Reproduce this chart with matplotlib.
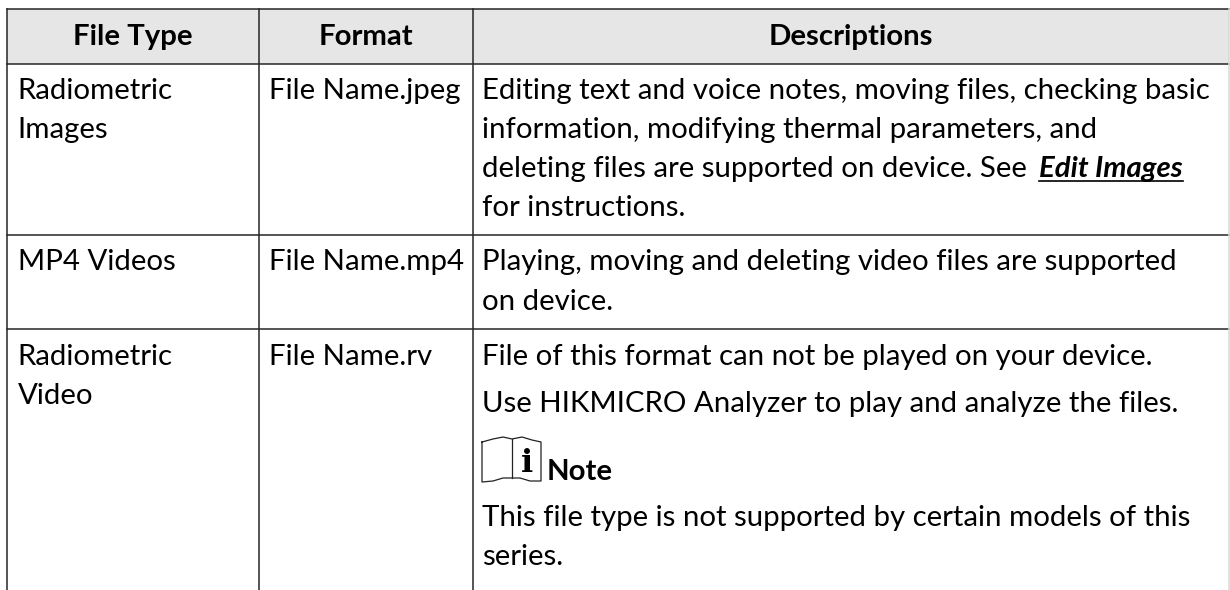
import matplotlib
matplotlib.use("Agg")
import matplotlib.pyplot as plt

plt.rcParams['font.family'] = ['Lato', 'DejaVu Sans']

# table content
headers = ["File Type", "Format", "Descriptions"]
file_types = [["Radiometric", "Images"], ["MP4 Videos"], ["Radiometric", "Video"]]
formats = ["File Name.jpeg", "File Name.mp4", "File Name.rv"]
row1_desc = ["Editing text and voice notes, moving files, checking basic",
             "information, modifying thermal parameters, and",
             "deleting files are supported on device. See",
             "for instructions."]
row2_desc = ["Playing, moving and deleting video files are supported",
             "on device."]
row3_desc_top = ["File of this format can not be played on your device.",
                 "Use HIKMICRO Analyzer to play and analyze the files."]
row3_desc_bottom = ["This file type is not supported by certain models of this",
                    "series."]
link_text = "Edit Images"
note_text = "Note"

# layout in pixels
col_x = [7, 258.5, 472.5, 1229]
top_y = 8.7
head_y = 64
row_y = [235, 329.3]
fs = 21.2
line_col = "#262626"

fig = plt.figure(figsize=(12.3, 5.9), dpi=100)
ax = fig.add_axes([0, 0, 1, 1])
ax.set_xlim(0, 1230)
ax.set_ylim(590, 0)
ax.axis("off")

ax.fill_between([col_x[0], col_x[3]], top_y, head_y, color="#e6e6e6", lw=0)

for y in [top_y, head_y] + row_y:
    ax.plot([col_x[0], col_x[3]], [y, y], color=line_col, lw=1.1)
for x in col_x[:3]:
    ax.plot([x, x], [top_y, 590], color=line_col, lw=1.1)
ax.plot([col_x[3], col_x[3]], [top_y, 590], color="#d8d8d8", lw=1.1)

for i, h in enumerate(headers):
    ax.text((col_x[i] + col_x[i + 1]) / 2, 45, h, ha="center", va="baseline",
            fontsize=fs, fontweight="bold", color="black")


def put_lines(x, baselines, lines):
    for y, s in zip(baselines, lines):
        ax.text(x, y, s, va="baseline", fontsize=fs, color="black")


put_lines(17.5, [99, 138], file_types[0])
put_lines(17.5, [270], file_types[1])
put_lines(17.5, [365, 404], file_types[2])
put_lines(269, [99], [formats[0]])
put_lines(269, [270], [formats[1]])
put_lines(269, [365], [formats[2]])
put_lines(482, [99, 138, 177, 216], row1_desc)
put_lines(482, [270, 310], row2_desc)
put_lines(482, [365, 412], row3_desc_top)
put_lines(482, [526, 565], row3_desc_bottom)

# bold link, underlined to its measured width
fig.canvas.draw()
renderer = fig.canvas.get_renderer()
link = ax.text(1039, 177, link_text, va="baseline", fontsize=fs,
               fontweight="bold", fontstyle="italic", color="black")
link_box = link.get_window_extent(renderer)
ax.plot([link_box.x0, link_box.x1], [181, 181], color="black", lw=1.2)

# note icon: open book outline
book_x = [482, 493, 503, 512, 522, 532, 541, 541, 530, 520, 512, 503, 493, 482, 482]
book_y = [442, 439, 437, 439, 437, 440, 442, 481, 481, 478, 478, 478, 481, 482, 442]
ax.plot(book_x, book_y, color="#222222", lw=0.9)
ax.plot([512, 512], [439, 478], color="#222222", lw=0.9)
ax.text(527, 472, "i", ha="center", va="baseline", fontsize=23, fontweight="bold",
        family="DejaVu Serif", color="black")
ax.text(547, 480, note_text, va="baseline", fontsize=fs, fontweight="bold", color="black")

fig.savefig("out.png", dpi=100)
